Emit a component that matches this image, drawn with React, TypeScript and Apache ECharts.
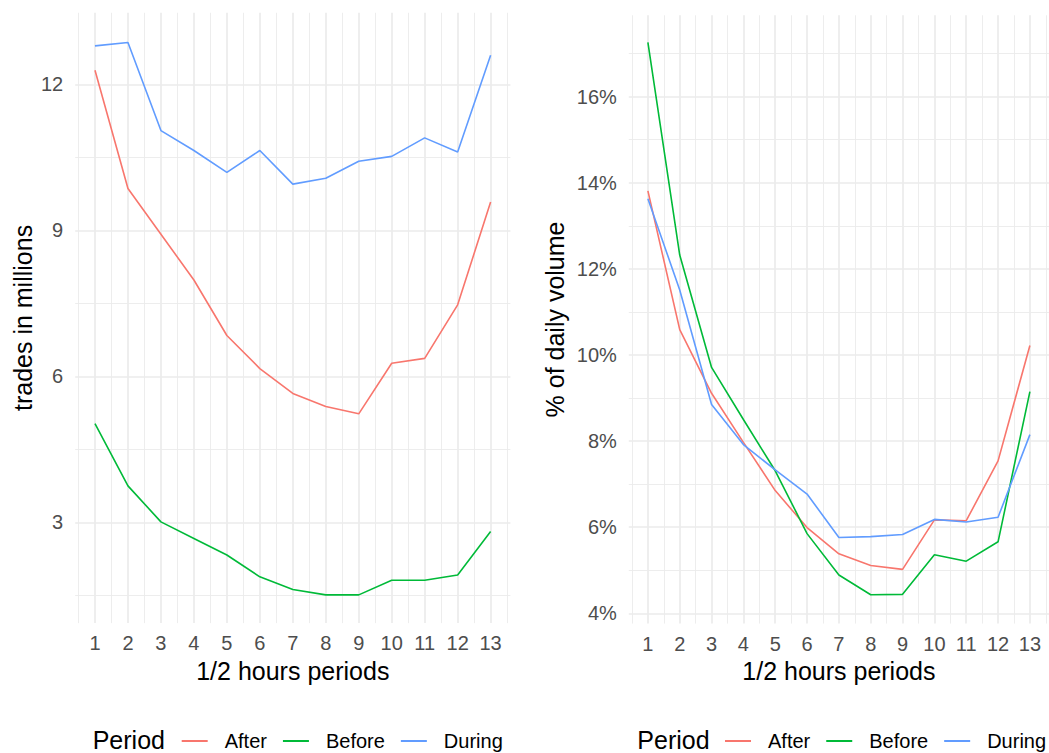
import React, { useEffect, useRef } from "react";
import * as echarts from "echarts";

const periods = [1, 2, 3, 4, 5, 6, 7, 8, 9, 10, 11, 12, 13];
const halfPeriods = [0.5, 1.5, 2.5, 3.5, 4.5, 5.5, 6.5, 7.5, 8.5, 9.5, 10.5, 11.5, 12.5, 13.5];
const seriesNames = ["After", "Before", "During"];
const seriesColors = ["#F8766D", "#00BA38", "#619CFF"];

// trades in millions
const tradesAfter = [12.29, 9.86, 8.92, 7.98, 6.84, 6.16, 5.65, 5.38, 5.23, 6.27, 6.37, 7.47, 9.58];
const tradesBefore = [5.03, 3.75, 3.01, 2.67, 2.33, 1.88, 1.62, 1.51, 1.51, 1.81, 1.81, 1.92, 2.81];
const tradesDuring = [12.79, 12.86, 11.05, 10.64, 10.19, 10.64, 9.95, 10.07, 10.42, 10.52, 10.9, 10.61, 12.6];

// % of daily volume
const shareAfter = [13.81, 10.59, 9.11, 7.97, 6.85, 5.99, 5.38, 5.11, 5.02, 6.17, 6.15, 7.54, 10.22];
const shareBefore = [17.26, 12.32, 9.71, 8.5, 7.31, 5.85, 4.89, 4.43, 4.44, 5.36, 5.21, 5.66, 9.15];
const shareDuring = [13.63, 11.51, 8.85, 7.92, 7.33, 6.77, 5.76, 5.78, 5.83, 6.18, 6.12, 6.23, 8.15];

const tradesMajor = [3, 6, 9, 12];
const tradesMinor = [1.5, 4.5, 7.5, 10.5];
const shareMajor = [4, 6, 8, 10, 12, 14, 16];
const shareMinor = [5, 7, 9, 11, 13, 15, 17];

const FONT = "'Liberation Sans', Arial, sans-serif";
const GRID_COLOR = "#EBEBEB";

function pairs(ys: number[]) {
  return periods.map((p, i) => [p, ys[i]]);
}

export default function App() {
  const ref = useRef<HTMLDivElement>(null);

  useEffect(() => {
    if (!ref.current) return;
    const chart = echarts.init(ref.current, undefined, { renderer: "svg" });

    const majorX = (gridIndex: number) => ({
      type: "value",
      gridIndex,
      min: 0.4,
      max: 13.6,
      position: "bottom",
      axisLine: { show: false },
      axisTick: { show: false, customValues: periods },
      axisLabel: {
        show: true,
        customValues: periods,
        margin: 10,
        fontSize: 20,
        color: "#4D4D4D",
        fontFamily: FONT,
      },
      splitLine: { show: true, lineStyle: { color: GRID_COLOR, width: 1.7 } },
      name: "1/2 hours periods",
      nameLocation: "middle",
      nameGap: 34,
      nameTextStyle: { fontSize: 25, color: "#000", fontFamily: FONT },
    });
    const minorX = (gridIndex: number) => ({
      type: "value",
      gridIndex,
      min: 0.4,
      max: 13.6,
      position: "top",
      axisLine: { show: false },
      axisTick: { show: false, customValues: halfPeriods },
      axisLabel: { show: false },
      splitLine: { show: true, lineStyle: { color: GRID_COLOR, width: 0.9 } },
    });
    const majorY = (gridIndex: number, min: number, max: number, ticks: number[], name: string, nameGap: number, pct: boolean) => ({
      type: "value",
      gridIndex,
      min,
      max,
      position: "left",
      axisLine: { show: false },
      axisTick: { show: false, customValues: ticks },
      axisLabel: {
        show: true,
        customValues: ticks,
        margin: 12,
        fontSize: 20,
        color: "#4D4D4D",
        fontFamily: FONT,
        formatter: (v: number) => (pct ? `${v}%` : `${v}`),
      },
      splitLine: { show: true, lineStyle: { color: GRID_COLOR, width: 1.7 } },
      name,
      nameLocation: "middle",
      nameGap,
      nameTextStyle: { fontSize: 25, color: "#000", fontFamily: FONT },
    });
    const minorY = (gridIndex: number, min: number, max: number, ticks: number[]) => ({
      type: "value",
      gridIndex,
      min,
      max,
      position: "right",
      axisLine: { show: false },
      axisTick: { show: false, customValues: ticks },
      axisLabel: { show: false },
      splitLine: { show: true, lineStyle: { color: GRID_COLOR, width: 0.9 } },
    });

    const leftData = [tradesAfter, tradesBefore, tradesDuring];
    const rightData = [shareAfter, shareBefore, shareDuring];

    const series: any[] = [];
    seriesNames.forEach((name, i) => {
      series.push({
        type: "line",
        name,
        xAxisIndex: 0,
        yAxisIndex: 0,
        data: pairs(leftData[i]),
        showSymbol: false,
        symbol: "none",
        color: seriesColors[i],
        itemStyle: { color: seriesColors[i] },
        lineStyle: { width: 1.6, color: seriesColors[i] },
      });
    });
    seriesNames.forEach((name, i) => {
      series.push({
        type: "line",
        name,
        xAxisIndex: 2,
        yAxisIndex: 2,
        data: pairs(rightData[i]),
        showSymbol: false,
        symbol: "none",
        color: seriesColors[i],
        itemStyle: { color: seriesColors[i] },
        lineStyle: { width: 1.6, color: seriesColors[i] },
      });
    });

    const legendBase = {
      orient: "horizontal",
      top: 731,
      itemWidth: 26,
      itemHeight: 2,
      icon: "rect",
      itemGap: 16,
      selectedMode: false,
      padding: 0,
      data: seriesNames,
      textStyle: { fontSize: 20, color: "#000", fontFamily: FONT, padding: [0, 0, 0, 12] },
    };

    chart.setOption({
      animation: false,
      backgroundColor: "#fff",
      grid: [
        { left: 75.2, top: 12.8, width: 435.2, height: 610.3, containLabel: false },
        { left: 628.8, top: 15.3, width: 422.7, height: 608.3, containLabel: false },
      ],
      xAxis: [majorX(0), minorX(0), majorX(1), minorX(1)],
      yAxis: [
        majorY(0, 0.93, 13.47, tradesMajor, "trades in millions", 40, false),
        minorY(0, 0.93, 13.47, tradesMinor),
        majorY(1, 3.76, 17.89, shareMajor, "% of daily volume", 61, true),
        minorY(1, 3.76, 17.89, shareMinor),
      ],
      legend: [
        { ...legendBase, left: 181.7 },
        { ...legendBase, left: 725 },
      ],
      graphic: [
        { type: "text", left: 92.7, top: 727, style: { text: "Period", fontSize: 25, fill: "#000", fontFamily: FONT } },
        { type: "text", left: 637.3, top: 727, style: { text: "Period", fontSize: 25, fill: "#000", fontFamily: FONT } },
      ],
      series,
    });

    return () => chart.dispose();
  }, []);

  return (
    <div
      ref={ref}
      style={{ position: "absolute", left: 0, top: 0, width: 1049, height: 753 }}
    />
  );
}
